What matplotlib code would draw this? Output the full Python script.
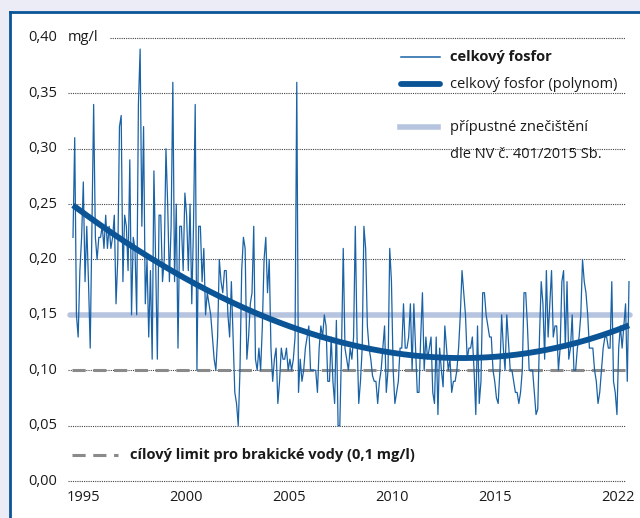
import matplotlib
matplotlib.use("Agg")
import matplotlib.pyplot as plt
from matplotlib.lines import Line2D
from matplotlib.patches import Rectangle
import numpy as np

plt.rcParams['font.family'] = ['Open Sans', 'DejaVu Sans']

# monthly values of total phosphorus (mg/l), Jan 1995 .. Dec 2021
phosphorus = {
    1995: [0.22, 0.31, 0.15, 0.13, 0.19, 0.22, 0.27, 0.18, 0.23, 0.18, 0.12, 0.23],
    1996: [0.34, 0.22, 0.20, 0.22, 0.22, 0.23, 0.21, 0.24, 0.21, 0.23, 0.21, 0.22],
    1997: [0.24, 0.16, 0.20, 0.32, 0.33, 0.18, 0.24, 0.23, 0.19, 0.29, 0.15, 0.22],
    1998: [0.21, 0.15, 0.34, 0.39, 0.23, 0.32, 0.16, 0.20, 0.13, 0.19, 0.11, 0.28],
    1999: [0.20, 0.11, 0.24, 0.24, 0.18, 0.20, 0.30, 0.25, 0.18, 0.23, 0.36, 0.18],
    2000: [0.25, 0.12, 0.23, 0.23, 0.19, 0.26, 0.24, 0.19, 0.25, 0.16, 0.23, 0.34],
    2001: [0.10, 0.23, 0.23, 0.18, 0.21, 0.15, 0.17, 0.16, 0.15, 0.13, 0.11, 0.10],
    2002: [0.13, 0.20, 0.18, 0.17, 0.19, 0.19, 0.15, 0.13, 0.18, 0.13, 0.08, 0.07],
    2003: [0.05, 0.10, 0.19, 0.22, 0.21, 0.11, 0.13, 0.16, 0.17, 0.23, 0.11, 0.10],
    2004: [0.12, 0.10, 0.14, 0.20, 0.22, 0.17, 0.20, 0.12, 0.09, 0.11, 0.12, 0.07],
    2005: [0.09, 0.12, 0.11, 0.11, 0.12, 0.10, 0.11, 0.10, 0.11, 0.13, 0.36, 0.08],
    2006: [0.11, 0.09, 0.10, 0.12, 0.13, 0.14, 0.10, 0.10, 0.10, 0.10, 0.08, 0.12],
    2007: [0.14, 0.13, 0.15, 0.14, 0.09, 0.09, 0.13, 0.09, 0.07, 0.145, 0.05, 0.05],
    2008: [0.12, 0.21, 0.12, 0.11, 0.10, 0.12, 0.11, 0.13, 0.23, 0.13, 0.07, 0.09],
    2009: [0.12, 0.23, 0.21, 0.14, 0.12, 0.11, 0.095, 0.09, 0.09, 0.07, 0.09, 0.10],
    2010: [0.12, 0.14, 0.08, 0.10, 0.21, 0.18, 0.10, 0.07, 0.08, 0.09, 0.12, 0.12],
    2011: [0.16, 0.12, 0.12, 0.13, 0.16, 0.10, 0.16, 0.12, 0.08, 0.08, 0.13, 0.17],
    2012: [0.10, 0.13, 0.11, 0.12, 0.13, 0.08, 0.07, 0.13, 0.06, 0.12, 0.10, 0.085],
    2013: [0.14, 0.12, 0.10, 0.11, 0.08, 0.09, 0.09, 0.10, 0.12, 0.15, 0.19, 0.17],
    2014: [0.15, 0.11, 0.12, 0.12, 0.13, 0.10, 0.06, 0.14, 0.07, 0.09, 0.17, 0.17],
    2015: [0.15, 0.14, 0.13, 0.13, 0.10, 0.09, 0.075, 0.07, 0.10, 0.15, 0.12, 0.10],
    2016: [0.15, 0.125, 0.10, 0.10, 0.09, 0.08, 0.08, 0.07, 0.08, 0.10, 0.17, 0.17],
    2017: [0.14, 0.10, 0.10, 0.10, 0.08, 0.06, 0.065, 0.13, 0.18, 0.16, 0.11, 0.19],
    2018: [0.13, 0.16, 0.19, 0.13, 0.14, 0.14, 0.10, 0.12, 0.18, 0.19, 0.12, 0.18],
    2019: [0.11, 0.12, 0.15, 0.10, 0.10, 0.12, 0.13, 0.15, 0.20, 0.18, 0.17, 0.15],
    2020: [0.12, 0.12, 0.12, 0.10, 0.09, 0.07, 0.08, 0.10, 0.12, 0.13, 0.13, 0.12],
    2021: [0.12, 0.18, 0.09, 0.08, 0.06, 0.12, 0.14, 0.12, 0.14, 0.16, 0.09, 0.18],
}
limit_permissible = 0.15
limit_brackish = 0.10
y_ticks = [0.00, 0.05, 0.10, 0.15, 0.20, 0.25, 0.30, 0.35, 0.40]
x_labels = ["1995", "2000", "2005", "2010", "2015", "2022"]
x_label_pos = [1995.5, 2000.5, 2005.5, 2010.5, 2015.5, 2021.45]

values = np.concatenate([phosphorus[y] for y in sorted(phosphorus)])
t = np.linspace(1995, 2022, len(values))
coef = np.polyfit(t - 2008, values, 3)
trend = np.polyval(coef, t - 2008)

W, H = 640, 518
BLUE = '#0b5597'
TXT = '#1a1a1a'
FS = 10.5
fig = plt.figure(figsize=(W / 100, H / 100), dpi=100)
fig.patch.set_facecolor('#ebecf5')


def fx(px):
    return px / W


def fy(py):
    return 1 - py / H


# white panel with blue frame
fig.add_artist(Rectangle((fx(10), 0), 1, fy(12), transform=fig.transFigure,
                         facecolor='white', edgecolor='none', zorder=0))
fig.add_artist(Line2D([fx(10), fx(10)], [0, fy(12)], color=BLUE, lw=2))
fig.add_artist(Line2D([fx(10), 1], [fy(12), fy(12)], color=BLUE, lw=2))

ax = fig.add_axes([fx(60), 1 - 490 / H, 576 / W, 470 / H])
ax.set_facecolor('none')
ax.set_xlim(1995 - 13 / 20.6, 2022 + 7 / 20.6)
ax.set_ylim(-9 / 1108, 0.40 + 18 / 1108)
for s in ax.spines.values():
    s.set_visible(False)
ax.set_xticks([])
ax.set_yticks([])

# dotted grid
x_grid_left = 1995 - 5 / 20.6
x_grid_right = 1995 + 552 / 20.6
for v in y_ticks:
    left = 1995 + 37 / 20.6 if v == 0.40 else x_grid_left
    ax.plot([left, x_grid_right], [v, v], color='#444444', lw=0.8,
            linestyle=(0, (1, 1)), zorder=1)
    ax.text(1995 - 15.5 / 20.6, v, f"{v:.2f}".replace('.', ','),
            ha='right', va='center', fontsize=FS, color=TXT)
ax.text(1995 - 5 / 20.6, 0.40, "mg/l", ha='left', va='center',
        fontsize=FS, color=TXT)

for pos, lab in zip(x_label_pos, x_labels):
    ax.text(pos, -0.0145, lab, ha='center', va='center', fontsize=FS,
            color=TXT, clip_on=False)

ax.plot([1995 - 3 / 20.6, 2022 + 1 / 20.6], [limit_permissible] * 2,
        color='#b7c4df', lw=4, solid_capstyle='round', zorder=2)
ax.plot([1995 - 1 / 20.6, x_grid_right], [limit_brackish] * 2,
        color='#8a8a8a', lw=2.2, linestyle=(0, (4.3, 2.5)), zorder=2)
ax.plot(t, values, color='#1a62a6', lw=0.9, zorder=3)
ax.plot(t, trend, color=BLUE, lw=4.2, solid_capstyle='butt', zorder=4)

# legend
def leg_line(x0, x1, y, **kw):
    fig.add_artist(Line2D([fx(x0), fx(x1)], [fy(y), fy(y)], **kw))


leg_line(401, 440, 57, color='#1a62a6', lw=1.1)
fig.text(fx(450), fy(57), "celkový fosfor", fontsize=FS, fontweight='bold',
         va='center', ha='left', color=TXT)
leg_line(401, 440, 84, color=BLUE, lw=4.2, solid_capstyle='round')
fig.text(fx(450), fy(84), "celkový fosfor (polynom)", fontsize=FS,
         va='center', ha='left', color=TXT)
leg_line(400, 438, 127, color='#b7c4df', lw=4)
fig.text(fx(450), fy(127), "přípustné znečištění", fontsize=FS,
         va='center', ha='left', color=TXT)
fig.text(fx(450), fy(154), "dle NV č. 401/2015 Sb.", fontsize=FS,
         va='center', ha='left', color=TXT)
leg_line(72, 118, 455, color='#8a8a8a', lw=2.2, linestyle=(0, (4.3, 2.5)))
fig.text(fx(130), fy(455), "cílový limit pro brakické vody (0,1 mg/l)",
         fontsize=FS, fontweight='bold', va='center', ha='left', color=TXT)

fig.savefig("out.png", dpi=100, facecolor=fig.get_facecolor())
